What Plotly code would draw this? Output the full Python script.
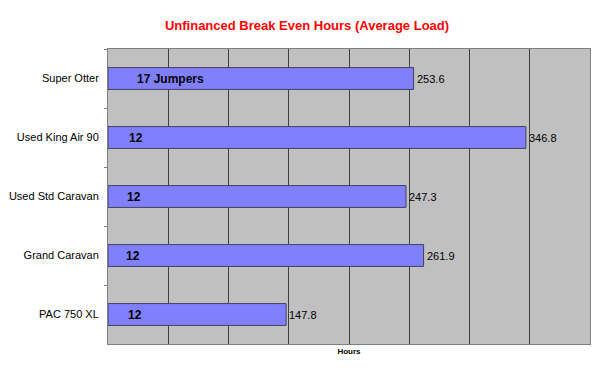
import plotly.graph_objects as go

categories = ["Super Otter", "Used King Air 90", "Used Std Caravan", "Grand Caravan", "PAC 750 XL"]
hours = [253.6, 346.8, 247.3, 261.9, 147.8]
value_labels = ["253.6", "346.8", "247.3", "261.9", "147.8"]
inner_labels = ["17 Jumpers", "12", "12", "12", "12"]
inner_offsets = [22, 16, 14, 13, 15]

fig = go.Figure()
fig.add_trace(go.Bar(
    y=categories, x=hours, orientation="h",
    marker=dict(color="#8080FF", line=dict(color="#404060", width=1)),
    width=0.37, hoverinfo="skip",
))

annotations = []
for c, v, lab in zip(categories, hours, value_labels):
    annotations.append(dict(x=v, y=c, text=lab, xanchor="left", yanchor="middle",
                            xshift=1, showarrow=False,
                            font=dict(family="Liberation Sans, Arial", size=11, color="black")))
for c, lab, off in zip(categories, inner_labels, inner_offsets):
    annotations.append(dict(x=off, y=c, text="<b>%s</b>" % lab, xanchor="left", yanchor="middle",
                            showarrow=False,
                            font=dict(family="Liberation Sans, Arial", size=12, color="black")))

fig.update_layout(
    width=600, height=368,
    margin=dict(l=107, r=9, t=49, b=24),
    paper_bgcolor="white", plot_bgcolor="#C0C0C0",
    showlegend=False,
    title=dict(text="<b>Unfinanced Break Even Hours (Average Load)</b>",
               x=307/600, xanchor="center", y=1-25/368, yanchor="middle",
               font=dict(family="Liberation Sans, Arial", size=13, color="#FF0000")),
    annotations=annotations,
    xaxis=dict(range=[0, 400], dtick=50, showticklabels=False,
               showgrid=True, gridcolor="#404040", gridwidth=1,
               zeroline=False, showline=True, linecolor="#808080", mirror=True,
               title=dict(text="<b>Hours</b>", standoff=4,
                          font=dict(family="Liberation Sans, Arial", size=8, color="black"))),
    yaxis=dict(categoryorder="array", categoryarray=categories, autorange="reversed",
               tickson="boundaries", ticks="outside", ticklen=3, tickcolor="#808080",
               showgrid=False, showline=True, linecolor="#808080", mirror=True,
               ticklabelstandoff=6,
               tickfont=dict(family="Liberation Sans, Arial", size=11, color="black")),
)

fig.write_html("out.html")
